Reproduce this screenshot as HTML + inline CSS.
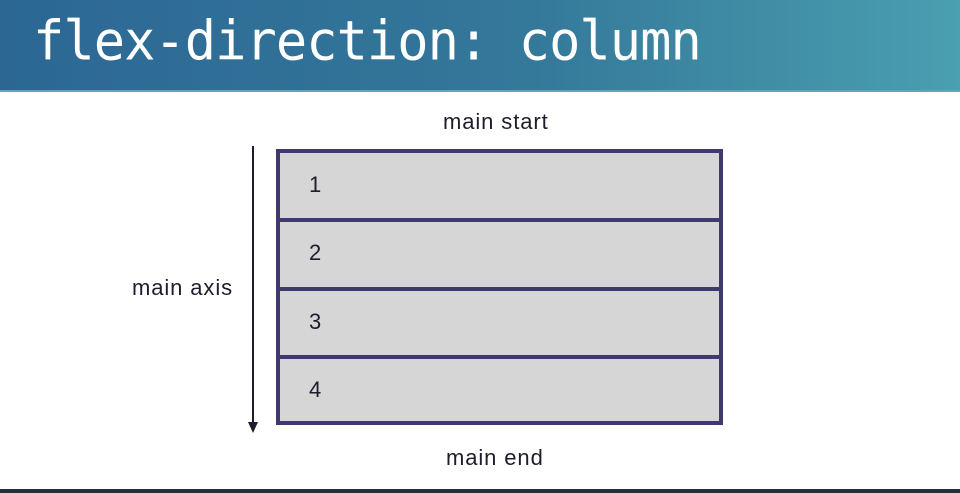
<!DOCTYPE html>
<html><head><style>
body{margin:0;width:960px;height:493px;background:#fff;position:relative;overflow:hidden;font-family:"Liberation Sans",sans-serif;color:#1a1a2e}
.hdr{position:absolute;left:0;top:0;width:960px;height:90px;background:linear-gradient(90deg,#2c6794 0%,#34789a 55%,#4a9fb0 100%);border-bottom:2px solid #5aa9b5}
.hdr span{position:absolute;left:33px;top:10px;font-family:"DejaVu Sans Mono",monospace;font-size:52px;color:#fff;letter-spacing:-0.95px;transform:scaleY(1.05);transform-origin:left top}
.lbl{position:absolute;font-size:22px;color:#1d1d2b;letter-spacing:0.9px}
.box{position:absolute;left:276px;top:149px;width:439px;height:268px;border:4px solid #3e3a70;background:#d6d6d6}
.div{position:absolute;left:0;width:439px;height:4px;background:#3e3a70}
.n{position:absolute;left:29px;font-size:22px;color:#1d1d2b}
.bot{position:absolute;left:0;top:489px;width:960px;height:4px;background:#2b2d3a}
</style></head><body>
<div class="hdr"><span>flex-direction: column</span></div>
<div class="lbl" style="left:443px;top:109px">main start</div>
<div class="lbl" style="left:132px;top:275px">main axis</div>
<div class="lbl" style="left:446px;top:445px">main end</div>
<svg style="position:absolute;left:245px;top:144px" width="16" height="292"><line x1="8" y1="2" x2="8" y2="280" stroke="#1d1d2b" stroke-width="2"/><polygon points="3,278 13,278 8,289" fill="#1d1d2b"/></svg>
<div class="box">
<div class="div" style="top:65px"></div>
<div class="div" style="top:134px"></div>
<div class="div" style="top:202px"></div>
<div class="n" style="top:19px">1</div>
<div class="n" style="top:87px">2</div>
<div class="n" style="top:156px">3</div>
<div class="n" style="top:224px">4</div>
</div>
<div class="bot"></div>
</body></html>
